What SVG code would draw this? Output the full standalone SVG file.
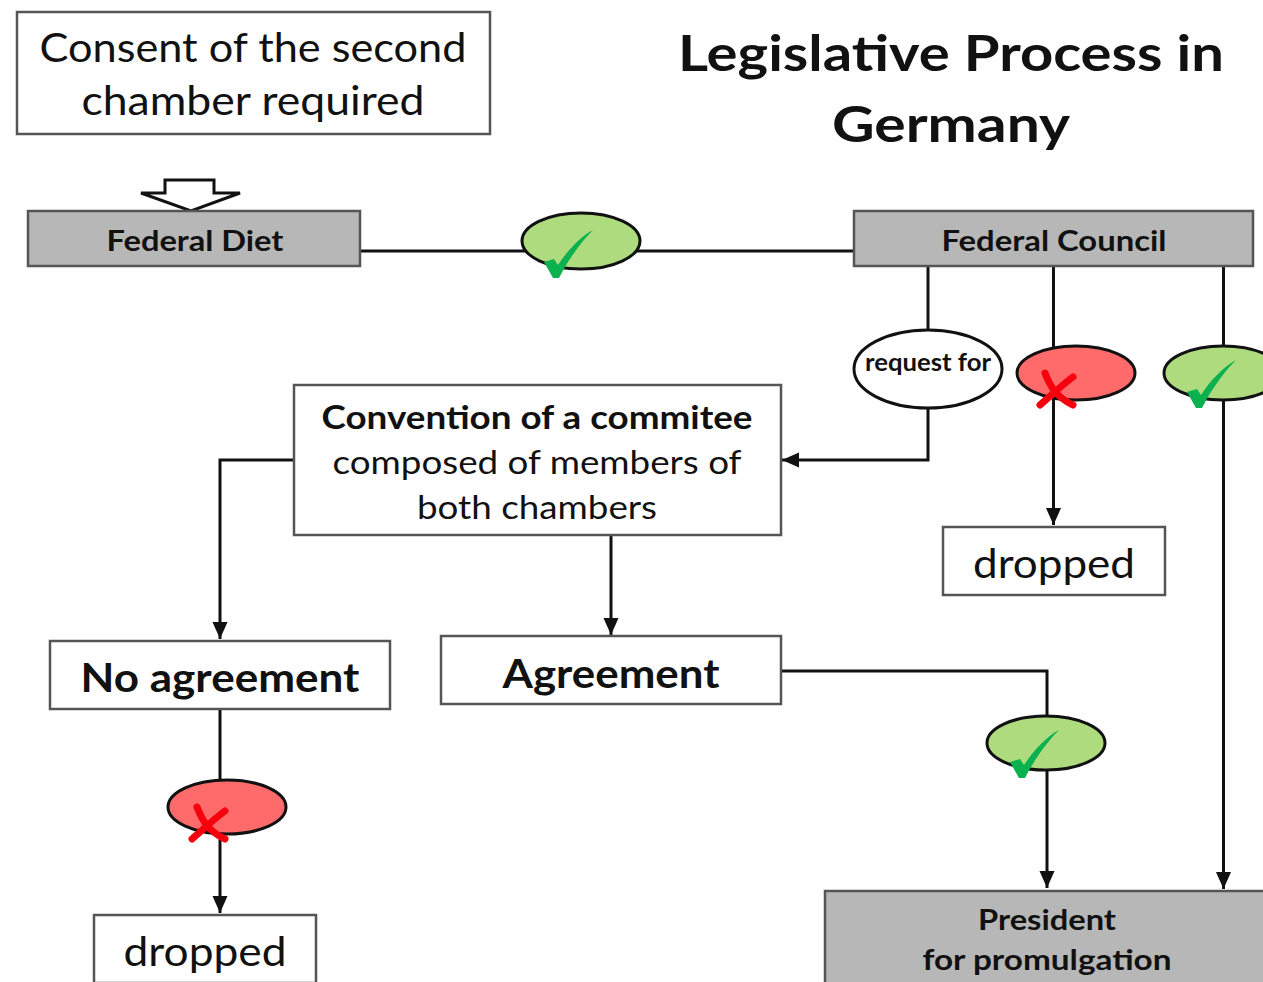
<svg xmlns="http://www.w3.org/2000/svg" width="1263" height="982" viewBox="0 0 1263 982">
<style>
text{font-family:Lato,"Open Sans",sans-serif;fill:#111;text-anchor:middle}
.b{font-weight:700}
.box{fill:#fff;stroke:#555;stroke-width:2.5}
.grey{fill:#b7b7b7;stroke:#555;stroke-width:2.5}
.line{fill:none;stroke:#111;stroke-width:3}
.arrow{marker-end:url(#ah)}
.oval{stroke:#111;stroke-width:3}
.yes{fill:#aedb7e}
.no{fill:#ff6b6b}
.tick{fill:#0bb04f}
.cross{fill:none;stroke:#f5000c;stroke-width:7;stroke-linecap:round}
</style>
<defs>
<marker id="ah" markerUnits="userSpaceOnUse" markerWidth="18" markerHeight="18" refX="17" refY="9" orient="auto"><path d="M0,1.5 L17,9 L0,16.5 Z" fill="#111"/></marker>
<path id="tk" d="M-35,17 L-25,14 L-21,20 C-12,6 1,-8 14,-15 C3,-4 -10,13 -20,33 L-26,33 Z"/>
<g id="xm"><path d="M-14,-16 C-9,-3 -3,8 14,16 M14,-12 C4,-5 -7,6 -19,16"/></g>
</defs>
<g id="connectors">
<path class="line" d="M361,251H854"/>
<path class="line" d="M928,266V330"/>
<path class="line arrow" d="M928,408V460H782"/>
<path class="line arrow" d="M1053.500,266V525"/>
<path class="line arrow" d="M1223.500,266V889"/>
<path class="line arrow" d="M294,460H220V639"/>
<path class="line arrow" d="M611,535V635"/>
<path class="line arrow" d="M781,671H1047V888"/>
<path class="line arrow" d="M220,709V913"/>
</g>
<g id="consent"><rect class="box" x="17" y="12" width="473" height="122"/>
<text x="253" y="62" font-size="40" textLength="427" lengthAdjust="spacingAndGlyphs">Consent of the second</text><text x="253" y="115" font-size="40" textLength="343" lengthAdjust="spacingAndGlyphs">chamber required</text></g>
<g id="title"><text class="b" x="951" y="71" font-size="50" textLength="546" lengthAdjust="spacingAndGlyphs">Legislative Process in</text><text class="b" x="951" y="142" font-size="50" textLength="238" lengthAdjust="spacingAndGlyphs">Germany</text></g>
<g id="down-arrow"><path d="M165,180H214V193H240L191,211L141,193H165Z" fill="#fff" stroke="#111" stroke-width="3"/></g>
<g id="federal-diet"><rect class="grey" x="28" y="211" width="332" height="55"/><text class="b" x="195" y="251" font-size="29" textLength="177" lengthAdjust="spacingAndGlyphs">Federal Diet</text></g>
<g id="federal-council"><rect class="grey" x="854" y="211" width="399" height="55"/><text class="b" x="1054" y="251" font-size="29" textLength="225" lengthAdjust="spacingAndGlyphs">Federal Council</text></g>
<g id="approve-1"><ellipse class="oval yes" cx="581" cy="241" rx="59" ry="28"/><use href="#tk" class="tick" x="579" y="245"/></g>
<g id="request"><ellipse cx="928" cy="369" rx="74" ry="39" fill="#fff" stroke="#111" stroke-width="3"/><text class="b" x="928" y="371" font-size="24" textLength="126" lengthAdjust="spacingAndGlyphs">request for</text></g>
<g id="reject-1"><ellipse class="oval no" cx="1076" cy="373" rx="59" ry="27"/><use href="#xm" class="cross" x="1059" y="389"/></g>
<g id="approve-2"><ellipse class="oval yes" cx="1223" cy="373" rx="59" ry="27"/><use href="#tk" class="tick" x="1222" y="375"/></g>
<g id="convention"><rect class="box" x="294" y="385" width="487" height="150"/>
<text class="b" x="537" y="429" font-size="33" textLength="431" lengthAdjust="spacingAndGlyphs">Convention of a commitee</text><text x="537" y="474" font-size="33" textLength="409" lengthAdjust="spacingAndGlyphs">composed of members of</text><text x="537" y="519" font-size="33" textLength="240" lengthAdjust="spacingAndGlyphs">both chambers</text></g>
<g id="dropped-1"><rect class="box" x="943" y="527" width="222" height="68"/><text x="1054" y="578" font-size="40" textLength="162" lengthAdjust="spacingAndGlyphs">dropped</text></g>
<g id="no-agreement"><rect class="box" x="50" y="641" width="340" height="68"/><text class="b" x="220" y="692" font-size="40" textLength="279" lengthAdjust="spacingAndGlyphs">No agreement</text></g>
<g id="agreement"><rect class="box" x="441" y="636" width="340" height="68"/><text class="b" x="611" y="688" font-size="40" textLength="217" lengthAdjust="spacingAndGlyphs">Agreement</text></g>
<g id="approve-3"><ellipse class="oval yes" cx="1046" cy="743" rx="59" ry="27"/><use href="#tk" class="tick" x="1045" y="745"/></g>
<g id="reject-2"><ellipse class="oval no" cx="227" cy="807" rx="59" ry="27"/><use href="#xm" class="cross" x="211" y="823"/></g>
<g id="dropped-2"><rect class="box" x="94" y="915" width="222" height="68"/><text x="205" y="966" font-size="40" textLength="163" lengthAdjust="spacingAndGlyphs">dropped</text></g>
<g id="president"><rect class="grey" x="825" y="891" width="440" height="95"/><text class="b" x="1047" y="930" font-size="29" textLength="138" lengthAdjust="spacingAndGlyphs">President</text><text class="b" x="1047" y="970" font-size="29" textLength="249" lengthAdjust="spacingAndGlyphs">for promulgation</text></g>
</svg>
